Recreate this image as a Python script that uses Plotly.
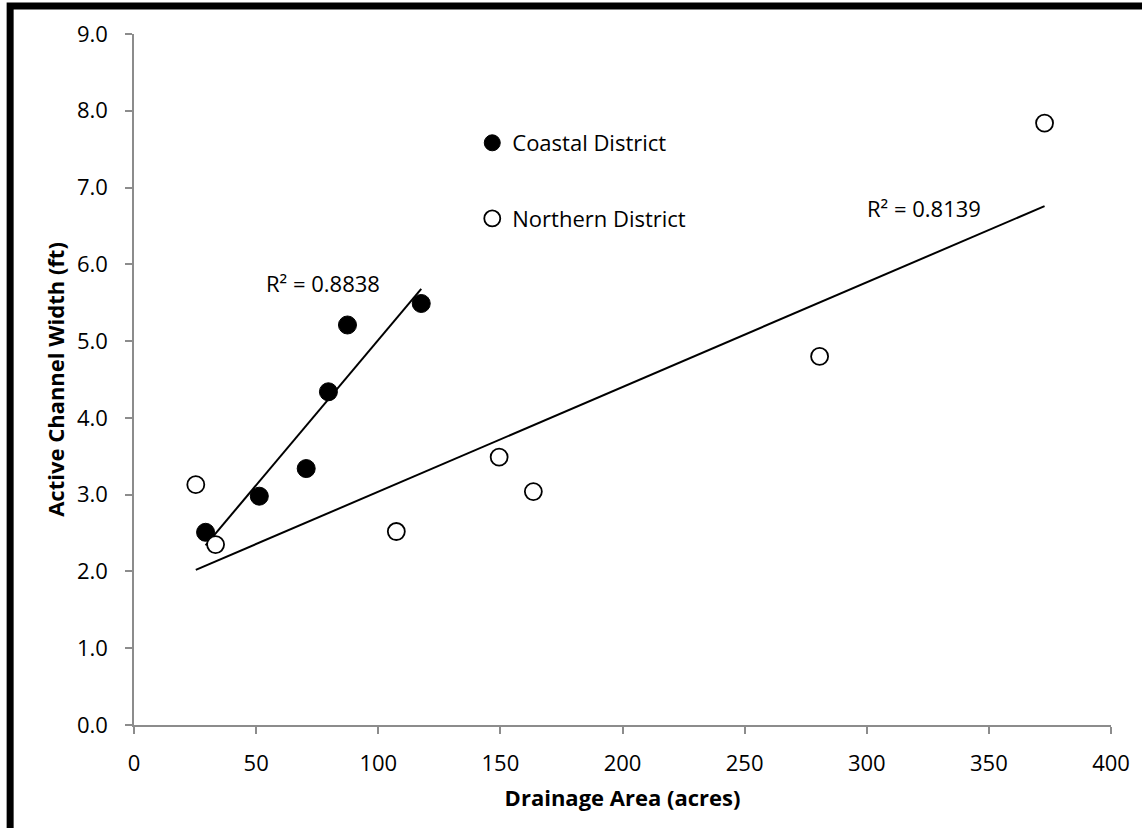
import numpy as np
import plotly.graph_objects as go

# Data
coastal_area = [29.3, 51.3, 70.5, 79.6, 87.4, 117.6]
coastal_width = [2.51, 2.98, 3.34, 4.34, 5.21, 5.49]
northern_area = [25.3, 33.4, 107.4, 149.5, 163.5, 280.7, 372.8]
northern_width = [3.13, 2.35, 2.52, 3.49, 3.04, 4.80, 7.84]
r2_labels = ["R² = 0.8838", "R² = 0.8139"]
x_ticks = [0, 50, 100, 150, 200, 250, 300, 350, 400]
y_ticks = [0, 1, 2, 3, 4, 5, 6, 7, 8, 9]

FONT = "Open Sans"
FS = 22


def trend(xs, ys):
    xs = np.asarray(xs, dtype=float)
    ys = np.asarray(ys, dtype=float)
    m, b = np.polyfit(xs, ys, 1)
    xx = np.array([xs.min(), xs.max()])
    return xx, m * xx + b


fig = go.Figure()

cx, cy = trend(coastal_area, coastal_width)
nx, ny = trend(northern_area, northern_width)
fig.add_trace(go.Scatter(x=cx, y=cy, mode="lines", line=dict(color="black", width=2),
                         showlegend=False, hoverinfo="skip"))
fig.add_trace(go.Scatter(x=nx, y=ny, mode="lines", line=dict(color="black", width=2),
                         showlegend=False, hoverinfo="skip"))

fig.add_trace(go.Scatter(
    x=coastal_area, y=coastal_width, mode="markers", name="Coastal District",
    legendgroup="c",
    marker=dict(symbol="circle", size=18, color="black", line=dict(color="black", width=1)),
))
fig.add_trace(go.Scatter(
    x=northern_area, y=northern_width, mode="markers", name="Northern District",
    legendgroup="n",
    marker=dict(symbol="circle", size=17, color="white", line=dict(color="black", width=1.8)),
))

fig.add_annotation(x=77.2, y=5.76, xref="x", yref="y", text=r2_labels[0], showarrow=False,
                   font=dict(family=FONT, size=FS, color="black"))
fig.add_annotation(x=323.6, y=6.74, xref="x", yref="y", text=r2_labels[1], showarrow=False,
                   font=dict(family=FONT, size=FS, color="black"))

W, H = 1142, 828
ml, mr, mt, mb = 134, 26, 34, 103
pw, ph = W - ml - mr, H - mt - mb


def px2paper_x(px):
    return (px - ml) / pw


def px2paper_y(py):
    return (H - mb - py) / ph


# outer black frame (top and left visible in the reference)
fig.add_shape(type="rect", xref="paper", yref="paper",
              x0=px2paper_x(9.5), x1=px2paper_x(1160), y0=px2paper_y(850), y1=px2paper_y(6),
              line=dict(color="black", width=7), fillcolor="rgba(0,0,0,0)", layer="above")

axis_common = dict(
    showgrid=False, zeroline=False, showline=True, linecolor="#8c8c8c", linewidth=1.5,
    ticks="outside", ticklen=7, tickwidth=1.5, tickcolor="#8c8c8c",
    tickfont=dict(family=FONT, size=FS, color="black"), mirror=False,
)

fig.update_layout(
    width=W, height=H,
    margin=dict(l=ml, r=mr, t=mt, b=mb),
    paper_bgcolor="white", plot_bgcolor="white",
    font=dict(family=FONT, size=FS, color="black"),
    xaxis=dict(range=[0, 400], tickvals=x_ticks, ticktext=[str(v) for v in x_ticks],
               ticklabelstandoff=11,
               title=dict(text="<b>Drainage Area (acres)</b>", standoff=14,
                          font=dict(family=FONT, size=FS, color="black")),
               **axis_common),
    yaxis=dict(range=[0, 9], tickvals=y_ticks, ticktext=[f"{v:.1f}" for v in y_ticks],
               ticklabelstandoff=13,
               title=dict(text="<b>Active Channel Width (ft)</b>", standoff=6,
                          font=dict(family=FONT, size=FS, color="black")),
               **axis_common),
    legend=dict(x=px2paper_x(474), y=px2paper_y(122), xanchor="left", yanchor="top",
                bgcolor="rgba(0,0,0,0)", borderwidth=0, tracegroupgap=44,
                traceorder="grouped", itemwidth=30,
                font=dict(family=FONT, size=FS, color="black")),
    showlegend=True,
)

fig.write_html("out.html", config={"displayModeBar": False},
               post_script="document.body.style.margin='0px';")
